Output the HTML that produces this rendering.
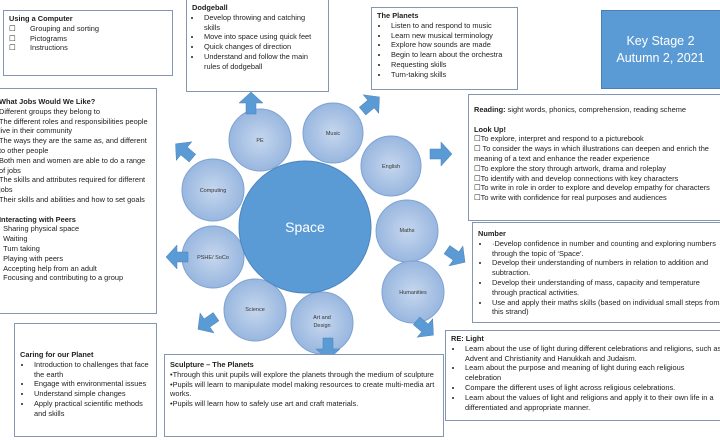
<!DOCTYPE html>
<html><head><meta charset="utf-8"><style>
body{margin:0;width:720px;height:440px;overflow:hidden;background:#fff;font-family:"Liberation Sans",sans-serif;}
.b{position:absolute;border:1px solid #8497b0;background:#fff;font-size:7.4px;line-height:9.8px;color:#222;box-sizing:border-box;overflow:hidden;}
.b b{font-weight:bold;}
ul{margin:0;padding-left:20px;}
li{padding-left:2px;}
</style></head><body>
<svg width="720" height="440" style="position:absolute;left:0;top:0">
<defs><radialGradient id="g" cx="50%" cy="50%" r="60%"><stop offset="0" stop-color="#c6d7ee"/><stop offset="1" stop-color="#8fb0dc"/></radialGradient></defs>
<g fill="url(#g)" stroke="#7ea2d2" stroke-width="1">
<circle cx="260" cy="140" r="31"/><circle cx="333" cy="133" r="30"/><circle cx="391" cy="166" r="30"/>
<circle cx="407" cy="231" r="31"/><circle cx="413" cy="292" r="31"/><circle cx="322" cy="323" r="31"/>
<circle cx="255" cy="310" r="31"/><circle cx="213" cy="257" r="31"/><circle cx="213" cy="190" r="31"/>
</g>
<circle cx="305" cy="227" r="66" fill="#5b9bd5" stroke="#4a86c0"/>
<text x="305" y="232" fill="#fff" font-size="14" text-anchor="middle" font-family="Liberation Sans">Space</text>
<g font-size="5.5" fill="#333" text-anchor="middle" font-family="Liberation Sans">
<text x="260" y="142">PE</text><text x="333" y="135">Music</text><text x="391" y="168">English</text>
<text x="407" y="232">Maths</text><text x="413" y="294">Humanities</text><text x="322" y="319">Art and</text><text x="322" y="327">Design</text>
<text x="255" y="311">Science</text><text x="213" y="259">PSHE/ SoCo</text><text x="213" y="192">Computing</text>
</g>
<g fill="#5b9bd5" stroke="#4a7fb5" stroke-width="0.5">
<polygon points="0,-11 12,0 5,0 5,11 -5,11 -5,0 -12,0" transform="translate(251,103)"/>
<polygon points="0,-11 12,0 5,0 5,11 -5,11 -5,0 -12,0" transform="translate(184,151) rotate(-50)"/>
<polygon points="0,-11 12,0 5,0 5,11 -5,11 -5,0 -12,0" transform="translate(371,104) rotate(50)"/>
<polygon points="0,-11 12,0 5,0 5,11 -5,11 -5,0 -12,0" transform="translate(441,154) rotate(90)"/>
<polygon points="0,-11 12,0 5,0 5,11 -5,11 -5,0 -12,0" transform="translate(456,256) rotate(125)"/>
<polygon points="0,-11 12,0 5,0 5,11 -5,11 -5,0 -12,0" transform="translate(425,328) rotate(130)"/>
<polygon points="0,-11 12,0 5,0 5,11 -5,11 -5,0 -12,0" transform="translate(328,349) rotate(180)"/>
<polygon points="0,-11 12,0 5,0 5,11 -5,11 -5,0 -12,0" transform="translate(207,323) rotate(-125)"/>
<polygon points="0,-11 12,0 5,0 5,11 -5,11 -5,0 -12,0" transform="translate(177,257) rotate(-90)"/>
</g>
</svg>

<div class="b" style="left:3px;top:10px;width:170px;height:66px;padding:3px 5px"><b>Using a Computer</b><br>☐&nbsp;&nbsp;&nbsp;&nbsp;&nbsp;&nbsp;&nbsp;Grouping and sorting<br>☐&nbsp;&nbsp;&nbsp;&nbsp;&nbsp;&nbsp;&nbsp;Pictograms<br>☐&nbsp;&nbsp;&nbsp;&nbsp;&nbsp;&nbsp;&nbsp;Instructions</div>

<div class="b" style="left:186px;top:-1px;width:143px;height:93px;padding:3px 5px"><b>Dodgeball</b><ul style="padding-left:10px"><li>Develop throwing and catching skills</li><li>Move into space using quick feet</li><li>Quick changes of direction</li><li>Understand and follow the main rules of dodgeball</li></ul></div>

<div class="b" style="left:-10px;top:88px;width:167px;height:226px;padding:8px 0 0 8px"><b>What Jobs Would We Like?</b><br>Different groups they belong to<br>The different roles and responsibilities people<br>live in their community<br>The ways they are the same as, and different<br>to other people<br>Both men and women are able to do a range<br>of jobs<br>The skills and attributes required for different<br>jobs<br>Their skills and abilities and how to set goals<br><br><b>Interacting with Peers</b><br>&nbsp;&nbsp;Sharing physical space<br>&nbsp;&nbsp;Waiting<br>&nbsp;&nbsp;Turn taking<br>&nbsp;&nbsp;Playing with peers<br>&nbsp;&nbsp;Accepting help from an adult<br>&nbsp;&nbsp;Focusing and contributing to a group</div>

<div class="b" style="left:371px;top:7px;width:147px;height:83px;padding:3px 5px"><b>The Planets</b><ul style="padding-left:12px"><li>Listen to and respond to music</li><li>Learn new musical terminology</li><li>Explore how sounds are made</li><li>Begin to learn about the orchestra</li><li>Requesting skills</li><li>Turn-taking skills</li></ul></div>

<div style="position:absolute;left:601px;top:10px;width:125px;height:79px;background:#5b9bd5;border:1px solid #4a7fb5;color:#fff;font-size:12.5px;line-height:17px;text-align:center;box-sizing:border-box;padding-top:22px;padding-right:6px">Key Stage 2<br>Autumn 2, 2021</div>

<div class="b" style="left:468px;top:94px;width:260px;height:127px;padding:10px 5px"><b>Reading:</b> sight words, phonics, comprehension, reading scheme<br><br><b>Look Up!</b><br>☐To explore, interpret and respond to a picturebook<br>☐ To consider the ways in which illustrations can deepen and enrich the meaning of a text and enhance the reader experience<br>☐To explore the story through artwork, drama and roleplay<br>☐To identify with and develop connections with key characters<br>☐To write in role in order to explore and develop empathy for characters<br>☐To write with confidence for real purposes and audiences</div>

<div class="b" style="left:472px;top:222px;width:256px;height:101px;padding:6px 5px"><b>Number</b><ul style="padding-left:12px"><li>·Develop confidence in number and counting and exploring numbers through the topic of ‘Space’.</li><li>Develop their understanding of numbers in relation to addition and subtraction.</li><li>Develop their understanding of mass, capacity and temperature through practical activities.</li><li>Use and apply their maths skills (based on individual small steps from this strand)</li></ul></div>

<div class="b" style="left:445px;top:330px;width:283px;height:91px;padding:3px 5px"><b>RE: Light</b><ul style="padding-left:12px"><li>Learn about the use of light during different celebrations and religions, such as Advent and Christianity and Hanukkah and Judaism.</li><li>Learn about the purpose and meaning of light during each religious celebration</li><li>Compare the different uses of light across religious celebrations.</li><li>Learn about the values of light and religions and apply it to their own life in a differentiated and appropriate manner.</li></ul></div>

<div class="b" style="left:14px;top:323px;width:143px;height:114px;padding:26px 5px 0 5px"><b>Caring for our Planet</b><ul style="padding-left:12px"><li>Introduction to challenges that face the earth</li><li>Engage with environmental issues</li><li>Understand simple changes</li><li>Apply practical scientific methods and skills</li></ul></div>

<div class="b" style="left:164px;top:354px;width:280px;height:83px;padding:5px 5px"><b>Sculpture – The Planets</b><br>•Through this unit pupils will explore the planets through the medium of sculpture<br>•Pupils will learn to manipulate model making resources to create multi-media art works.<br>•Pupils will learn how to safely use art and craft materials.</div>
</body></html>
